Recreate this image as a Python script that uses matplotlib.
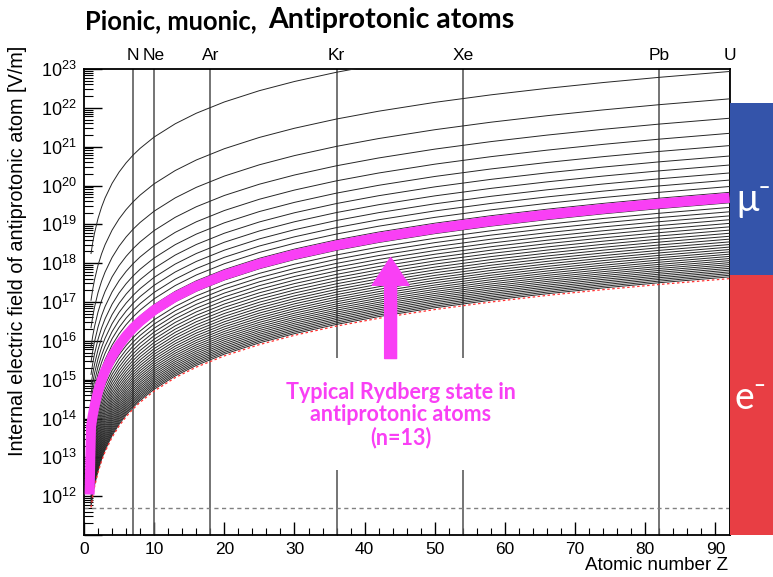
import matplotlib
matplotlib.use("Agg")
import matplotlib.pyplot as plt
import numpy as np
from matplotlib.patches import Rectangle
from matplotlib.ticker import LogLocator, MultipleLocator, NullFormatter

# n = 13 curve (antiprotonic atom)
atomic_z = [1, 1.25, 1.5, 2, 2.5, 3, 4, 5, 6, 7, 8, 10, 13, 16, 20, 25,
            30, 36, 42, 50, 58, 66, 74, 82, 92]
field_n13 = [6.2e13, 1.21e14, 2.09e14, 4.96e14, 9.69e14, 1.67e15, 3.97e15,
             7.75e15, 1.34e16, 2.13e16, 3.17e16, 6.2e16, 1.36e17, 2.54e17,
             4.96e17, 9.69e17, 1.67e18, 2.89e18, 4.59e18, 7.75e18, 1.21e19,
             1.78e19, 2.51e19, 3.42e19, 4.83e19]
# electron K-shell boundary (red dashed)
field_k_shell = [5.1e11, 1.0e12, 1.73e12, 4.1e12, 8.0e12, 1.39e13, 3.29e13,
                 6.4e13, 1.11e14, 1.76e14, 2.63e14, 5.1e14, 1.13e15, 2.1e15,
                 4.1e15, 8.0e15, 1.39e16, 2.4e16, 3.81e16, 6.4e16, 1.0e17,
                 1.48e17, 2.08e17, 2.83e17, 4.0e17]
# hand drawn tail of the highlighted curve
pink_tail_z = [0.8, 0.9]
pink_tail_field = [1.1e12, 1.0e13]

levels = list(range(1, 43))
highlight_level = 13
hydrogen_field = 5.1e11

element_names = ["N", "Ne", "Ar", "Kr", "Xe", "Pb", "U"]
element_z = [7, 10, 18, 36, 54, 82, 92]

arrow_z = 43.7
arrow_from = 3.5e15
arrow_to = 1.4e18

y_decades = list(range(12, 24))

PINK = "#f93ff5"
W, H = 773, 577

plt.rcParams["font.family"] = ["Liberation Sans", "DejaVu Sans"]
plt.rcParams["mathtext.fontset"] = "custom"
plt.rcParams["mathtext.rm"] = "Liberation Sans"
plt.rcParams["mathtext.it"] = "Liberation Sans:italic"

fig = plt.figure(figsize=(W / 100, H / 100), dpi=100)
ax = fig.add_axes([84 / W, 1 - 535 / H, 645.5 / W, 466 / H])

z = np.array(atomic_z)
base = np.array(field_n13)
for n in levels:
    ax.plot(z, base * (highlight_level / n) ** 4, color="#262626", lw=0.7, zorder=3)

ax.plot(z, field_k_shell, color="#ff3030", lw=0.9, ls=(0, (2, 2)), zorder=4)

ax.plot(pink_tail_z + atomic_z, pink_tail_field + field_n13, color=PINK,
        lw=7.2, solid_capstyle="butt", solid_joinstyle="round", zorder=6)

for name, ez in zip(element_names, element_z):
    ax.axvline(ez, color="#5c5c5c", lw=1.2, zorder=2)
    ax.text(ez, 1.012, name, transform=ax.get_xaxis_transform(),
            ha="center", va="bottom", fontsize=12.5)

ax.axhline(hydrogen_field, color="#808080", lw=1.0, ls=(0, (3, 2.5)), zorder=2)

# white patch behind the annotation
ax.add_patch(Rectangle((0.30, 0.139), 0.35, 0.24, transform=ax.transAxes,
                       facecolor="white", edgecolor="none", zorder=5))
ax.annotate("", xy=(arrow_z, arrow_to), xytext=(arrow_z, arrow_from),
            arrowprops=dict(arrowstyle="simple,head_length=1.0,head_width=1.33,tail_width=0.43",
                            mutation_scale=20, color=PINK, shrinkA=0, shrinkB=0),
            zorder=7)
ax.text(0.491, 0.258, "Typical Rydberg state in\nantiprotonic atoms\n(n=13)",
        transform=ax.transAxes, ha="center", va="center", multialignment="center",
        color=PINK, fontsize=15.5, fontweight="bold", family=["Lato", "DejaVu Sans"],
        linespacing=1.08, zorder=8)

ax.set_xlim(0, 92)
ax.set_yscale("log")
ax.set_ylim(1e11, 1e23)
ax.xaxis.set_major_locator(MultipleLocator(10))
ax.xaxis.set_minor_locator(MultipleLocator(2))
ax.set_yticks([10.0 ** d for d in [11] + y_decades])
ax.set_yticklabels([""] + [r"$10^{%d}$" % d for d in y_decades])
ax.yaxis.set_minor_locator(LogLocator(base=10, subs=np.arange(2, 10), numticks=30))
ax.yaxis.set_minor_formatter(NullFormatter())
ax.tick_params(axis="y", which="major", direction="in", length=13, width=1.0,
               labelsize=13, pad=5)
ax.tick_params(axis="y", which="minor", direction="in", length=6.5, width=0.8)
ax.tick_params(axis="x", which="major", direction="in", length=9.5, width=1.0,
               labelsize=12.5, pad=5)
ax.tick_params(axis="x", which="minor", direction="in", length=5, width=0.8)
for spine in ax.spines.values():
    spine.set_linewidth(1.3)

fig.text(18 / W, 1 - 251 / H, "Internal electric field of antiprotonic atom [V/m]",
         rotation=90, ha="center", va="center", fontsize=14.3)
fig.text(728 / W, 1 - 566 / H, "Atomic number Z", ha="right", va="center",
         fontsize=13.6)

fig.text(85 / W, 1 - 21 / H, "Pionic, muonic,", ha="left", va="center",
         fontsize=18.4, fontweight="bold", family=["Lato", "DejaVu Sans"])
fig.text(268 / W, 1 - 20 / H, "Antiprotonic atoms", ha="left", va="center",
         fontsize=20.5, fontweight="bold", family=["Lato", "DejaVu Sans"])

# muon / electron bars on the right
fig.patches.append(Rectangle((730 / W, 1 - 275 / H), 43 / W, 172 / H,
                             transform=fig.transFigure, facecolor="#3454aa",
                             edgecolor="none"))
fig.patches.append(Rectangle((730 / W, 1 - 535 / H), 43 / W, 260 / H,
                             transform=fig.transFigure, facecolor="#e83e44",
                             edgecolor="none"))
fig.text(736 / W, 1 - 200 / H, "μ⁻", ha="left", va="center", color="white",
         fontsize=27, family=["Lato", "DejaVu Sans"])
fig.text(735 / W, 1 - 398 / H, "e⁻", ha="left", va="center", color="white",
         fontsize=27, family=["Lato", "DejaVu Sans"])

fig.savefig("out.png", dpi=100)
